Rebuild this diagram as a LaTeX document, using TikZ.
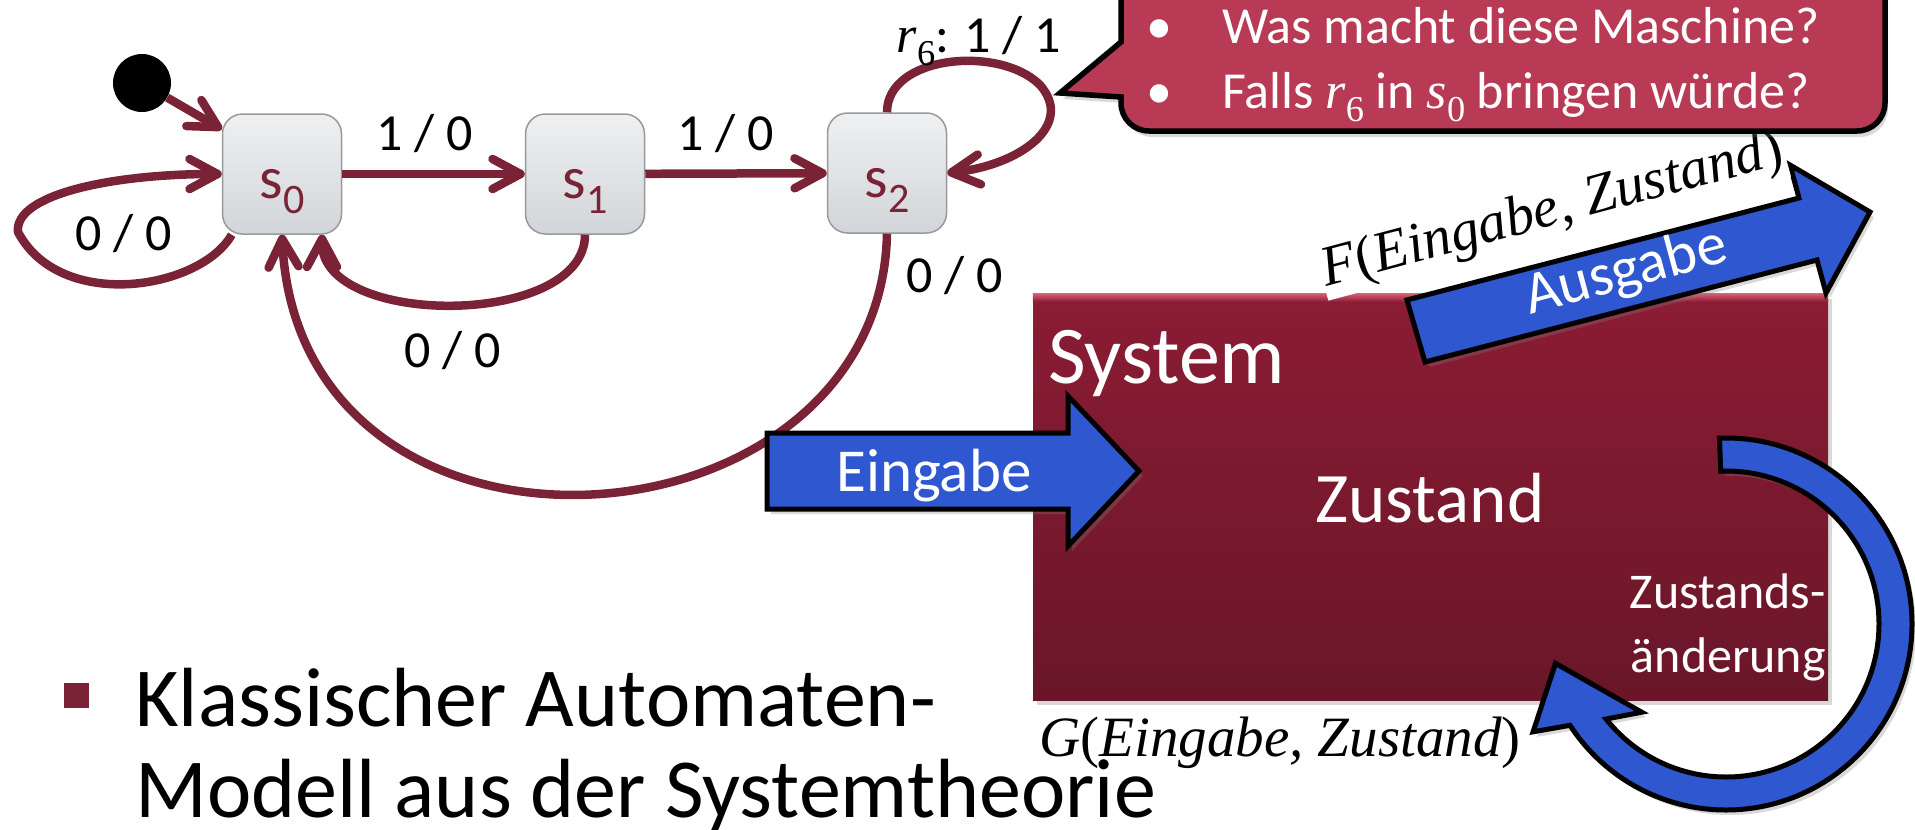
\documentclass[tikz,border=0pt]{standalone}
\usepackage{fontspec}
\setmainfont{Carlito}
\newfontfamily\cambria{Liberation Serif}
\usepackage{graphicx}
\usetikzlibrary{arrows.meta,shadows,calc}

\definecolor{maroon}{RGB}{122,34,54}
\definecolor{statetop}{RGB}{239,240,242}
\definecolor{statebot}{RGB}{210,213,217}
\definecolor{bubblered}{RGB}{184,58,85}
\definecolor{systop}{RGB}{139,28,52}
\definecolor{sysbot}{RGB}{106,22,40}
\definecolor{syshi}{RGB}{214,92,114}
\definecolor{arrowblue}{RGB}{46,87,208}

\newcommand\fx[1]{{\cambria\itshape #1}}
\newcommand\low[1]{\raisebox{-.25em}{\scalebox{.7}{#1}}}
\newcommand\fsize[1]{\fontsize{#1}{#1}\selectfont}

\tikzset{
  state/.style={draw=black!40, line width=1.5pt, rounded corners=20pt,
    minimum width=119pt, minimum height=120pt, top color=statetop,
    bottom color=statebot, text=maroon, font=\fsize{60},
    text height=48pt, text depth=0pt},
  trans/.style={draw=maroon, line width=8.5pt,
    -{Straight Barb[round,length=28pt,width=30pt]}},
  lab/.style={font=\fsize{52}, inner sep=0pt, anchor=base},
  blockarrow/.style={draw=black, line width=5pt, fill=arrowblue,
    drop shadow={opacity=.3,shadow xshift=4pt,shadow yshift=-5pt}},
  wtext/.style={text=white, inner sep=0pt}
}

\begin{document}
\begin{tikzpicture}[x=1pt,y=-1pt]
  \useasboundingbox (0,0) rectangle (1915,830);
  \clip (0,0) rectangle (1915,830);

  % Zustaende
  \node [state] (s0) at (282,174) {s\low{0}};
  \node [state] (s1) at (585,174) {s\low{1}};
  \node [state] (s2) at (887,173) {s\low{2}};
  \node [circle, fill=black, minimum size=58pt, inner sep=0pt] (init) at (142,83) {};

  % Uebergaenge
  \draw [trans] (init) -- ([yshift=-16pt]s0.north west);
  \draw [trans] (s0) -- (s1);
  \draw [trans] (s1) -- (s2);
  \draw [trans] ([xshift=10pt]s0.south west) .. controls (200,290) and (60,312) .. (18,232)
    .. controls (14,195) and (110,174) .. (s0.west);
  \draw [trans] (s1.south) .. controls (585,328) and (322,328) .. ([xshift=40pt]s0.south);
  \draw [trans] (s2.south) .. controls (880,560) and (300,600) .. (s0.south);
  \draw [trans] (s2.north) .. controls (887,55) and (1000,45) .. (1040,85)
    .. controls (1075,125) and (1020,165) .. (s2.east);

  \node [lab] (l01) at (425,150) {1 / 0};
  \node [lab] (l12) at (726,150) {1 / 0};
  \node [lab] (l00) at (124,250) {0 / 0};
  \node [lab] (l10) at (453,367) {0 / 0};
  \node [lab] (l20) at (955,292) {0 / 0};
  \node [lab] (l22) at (979,52) {\fx{r}\low{\cambria 6}: 1 / 1};

  % System
  \node [minimum width=795pt, minimum height=406pt, top color=systop, bottom color=sysbot,
    drop shadow={opacity=.3,shadow xshift=4pt,shadow yshift=-5pt}] (sys) at (1430.5,497) {};
  \fill [top color=syshi, bottom color=systop] (sys.north west) rectangle ([yshift=-8pt]sys.north east);
  \node [wtext, font=\fsize{82}, anchor=base west] (systxt) at (1048,383) {System};
  \node [wtext, font=\fsize{71}, anchor=base] (zust) at (1430,522) {Zustand};
  \node [wtext, font=\fsize{50}, anchor=base east] (za1) at (1826,608) {Zustands-};
  \node [wtext, font=\fsize{50}, anchor=base east] (za2) at (1826,672) {änderung};

  % Eingabe
  \draw [blockarrow] (767,433) -- (1068,433) -- (1068,396) -- (1139,471) -- (1068,546)
    -- (1068,509) -- (767,509) -- cycle;
  \node [wtext, font=\fsize{61}, anchor=base] (eing) at (934,491) {Eingabe};

  % Ausgabe
  \draw [blockarrow] (1425,362) -- (1407,300) -- (1799,198) -- (1790,165) -- (1870,212)
    -- (1826,293) -- (1817,260) -- cycle;
  \node [wtext, font=\fsize{60}, anchor=base, rotate=15] (ausg) at (1630,288) {Ausgabe};
  \node [fill=white, inner sep=2pt, font=\fsize{57}, anchor=base, rotate=15] (ftxt) at (1556,225)
    {\fx{F}{\cambria(}\fx{Eingabe, Zustand}{\cambria)}};

  % Zustandsaenderung
  \coordinate (zc) at (1726,624);
  \draw [blockarrow] ($(zc)+(-92:186)$) arc [start angle=-92, end angle=147, radius=186]
    -- ($(zc)+(150.8:221)$) -- ($(zc)+(167:175)$) -- ($(zc)+(133.7:122)$)
    -- ($(zc)+(141.6:153)$) arc [start angle=141.6, end angle=-92, radius=153] -- cycle;
  \node [font=\fsize{57}, anchor=base, inner sep=0pt] (gtxt) at (1280,756)
    {\fx{G}{\cambria(}\fx{Eingabe, Zustand}{\cambria)}};

  % Sprechblase
  \draw [line width=5.5pt, fill=bubblered,
    drop shadow={opacity=.3,shadow xshift=3pt,shadow yshift=-6pt}]
    (1121,-40) -- (1121,42) -- (1060,93) -- (1121,97) -- (1121,103)
    arc [start angle=180, end angle=90, radius=28] -- (1857,131)
    arc [start angle=90, end angle=0, radius=28] -- (1885,-40) -- cycle;
  \node [wtext, font=\fsize{52}, anchor=base west] (q1) at (1146,43)
    {\makebox[76pt][l]{•}Was macht diese Maschine?};
  \node [wtext, font=\fsize{52}, anchor=base west] (q2) at (1146,108)
    {\makebox[76pt][l]{•}Falls \fx{r}\low{\cambria 6} in \fx{s}\low{\cambria 0} bringen würde?};

  % Text
  \node [fill=maroon, minimum size=25pt, inner sep=0pt] (bul) at (76.5,695.5) {};
  \node [font=\fsize{84}, anchor=base west, inner sep=0pt] (t1) at (135,726) {Klassischer Automaten-};
  \node [font=\fsize{84}, anchor=base west, inner sep=0pt] (t2) at (135,817) {Modell aus der Systemtheorie};
\end{tikzpicture}
\end{document}
